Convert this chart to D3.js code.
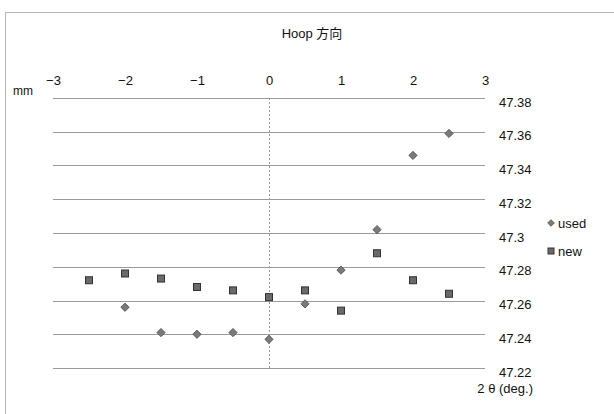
<!DOCTYPE html>
<meta charset="utf-8">
<style>
body { margin: 0; background: #fff; }
text { font-family: "Liberation Sans", "Noto Sans CJK JP", sans-serif; fill: #111; }
.grid line { stroke: #9a9a9a; stroke-width: 1; }
</style>
<body>
<script src="https://cdn.jsdelivr.net/npm/d3@7"></script>
<script>

// data
var angles = [-2.5, -2, -1.5, -1, -0.5, 0, 0.5, 1, 1.5, 2, 2.5];
var usedAngles = [-2, -1.5, -1, -0.5, 0, 0.5, 1, 1.5, 2, 2.5];
var usedValues = [47.256, 47.241, 47.240, 47.241, 47.237, 47.258, 47.278, 47.302, 47.346, 47.359];
var newValues = [47.272, 47.276, 47.273, 47.268, 47.266, 47.262, 47.266, 47.254, 47.288, 47.272, 47.264];
var xTicks = [-3, -2, -1, 0, 1, 2, 3];
var yTicks = [47.22, 47.24, 47.26, 47.28, 47.3, 47.32, 47.34, 47.36, 47.38];

var width = 614, height = 414;

var svg = d3.select("body").append("svg")
    .attr("width", width)
    .attr("height", height);

// chart frame
svg.append("rect")
    .attr("x", 5.5).attr("y", 12.5)
    .attr("width", 640).attr("height", 440)
    .attr("fill", "none")
    .attr("stroke", "#b5b5b5");

var x = d3.scaleLinear().domain([-3, 3]).range([53, 485]);
var y = d3.scaleLinear().domain([47.22, 47.38]).range([368, 98]);

// horizontal gridlines
svg.append("g").attr("class", "grid")
  .selectAll("line")
    .data(yTicks)
  .enter().append("line")
    .attr("x1", x(-3)).attr("x2", x(3))
    .attr("y1", function(d) { return Math.round(y(d)) + 0.5; })
    .attr("y2", function(d) { return Math.round(y(d)) + 0.5; });

// vertical line at 0
svg.append("line")
    .attr("x1", x(0) + 0.5).attr("x2", x(0) + 0.5)
    .attr("y1", y(47.38)).attr("y2", y(47.22))
    .attr("stroke", "#9a9a9a")
    .attr("stroke-dasharray", "2,2");

// x axis on top
var xAxis = svg.append("g")
    .attr("transform", "translate(0,85)")
    .call(d3.axisTop(x).tickValues(xTicks).tickSize(0).tickPadding(0)
      .tickFormat(function(d) { return d < 0 ? "\u2212" + (-d) : d; }));
xAxis.select(".domain").remove();
xAxis.selectAll("text")
    .style("font-size", "13px")
    .style("font-family", "Liberation Sans, sans-serif")
    .attr("fill", "#111");

// y axis labels on right
var yAxis = svg.append("g")
    .attr("transform", "translate(499,4)")
    .call(d3.axisRight(y).tickValues(yTicks).tickSize(0).tickPadding(0)
      .tickFormat(function(d) { return +d.toFixed(2); }));
yAxis.select(".domain").remove();
yAxis.selectAll("text")
    .style("font-size", "13px")
    .style("font-family", "Liberation Sans, sans-serif")
    .attr("fill", "#111");

// title and axis names
svg.append("text")
    .attr("x", 312).attr("y", 38)
    .attr("text-anchor", "middle")
    .style("font-size", "13px")
    .text("Hoop 方向");

svg.append("text")
    .attr("x", 13).attr("y", 95)
    .style("font-size", "12px")
    .text("mm");

svg.append("text")
    .attr("x", 533).attr("y", 393)
    .attr("text-anchor", "end")
    .style("font-size", "13px")
    .text("2 θ (deg.)");

var diamond = d3.symbol().type(d3.symbolDiamond2).size(44);

// used series (diamonds)
svg.append("g")
  .selectAll("path")
    .data(usedAngles)
  .enter().append("path")
    .attr("d", diamond)
    .attr("transform", function(d, i) { return "translate(" + x(d) + "," + y(usedValues[i]) + ")"; })
    .attr("fill", "#7a7a7a")
    .attr("stroke", "#4a4a4a")
    .attr("stroke-width", 0.8);

// new series (squares)
svg.append("g")
  .selectAll("rect")
    .data(angles)
  .enter().append("rect")
    .attr("x", function(d) { return x(d) - 3.5; })
    .attr("y", function(d, i) { return y(newValues[i]) - 3.5; })
    .attr("width", 7).attr("height", 7)
    .attr("fill", "#6a6a6a")
    .attr("stroke", "#333")
    .attr("stroke-width", 1);

// legend
var legend = svg.append("g");
legend.append("path")
    .attr("d", d3.symbol().type(d3.symbolDiamond2).size(28))
    .attr("transform", "translate(551,223)")
    .attr("fill", "#7a7a7a")
    .attr("stroke", "#4a4a4a")
    .attr("stroke-width", 0.8);
legend.append("text")
    .attr("x", 558).attr("y", 227.5)
    .style("font-size", "13px")
    .text("used");
legend.append("rect")
    .attr("x", 548).attr("y", 248)
    .attr("width", 6).attr("height", 6)
    .attr("fill", "#6a6a6a")
    .attr("stroke", "#333");
legend.append("text")
    .attr("x", 558).attr("y", 255.5)
    .style("font-size", "13px")
    .text("new");

</script>
</body>
